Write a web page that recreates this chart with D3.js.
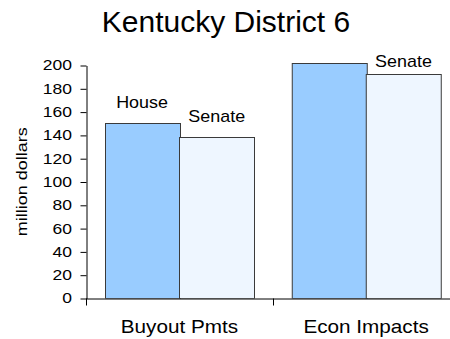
<!DOCTYPE html>
<html>
<head>
<meta charset="utf-8">
<script src="https://cdn.jsdelivr.net/npm/d3@7"></script>
<style>
  html, body { margin: 0; padding: 0; background: #fff; }
  svg { display: block; font-family: "Liberation Sans", Arial, sans-serif; }
</style>
</head>
<body>
<svg id="chart" width="450" height="339"></svg>
<script>
// Kentucky District 6: House vs Senate estimates, million dollars
const categories = ["Buyout Pmts", "Econ Impacts"];
const seriesNames = ["House", "Senate"];
const houseValues = [151, 212];
const senateValues = [139, 193];
const yTicks = [0, 20, 40, 60, 80, 100, 120, 140, 160, 180, 200];
const titleText = "Kentucky District 6";
const yAxisTitle = "million dollars";

const colors = { House: "#99CCFF", Senate: "#EEF6FF" };

const svg = d3.select("#chart");

const plot = { left: 86, right: 459.5, top: 63, bottom: 298.5 };

const y = d3.scaleLinear().domain([0, 200]).range([plot.bottom, 65.5]);
const x0 = d3.scaleBand().domain(categories).range([plot.left, plot.right]);
const x1 = d3.scaleBand().domain(seriesNames).range([0, x0.bandwidth()]).paddingOuter(0.25);

const rows = categories.map((c, i) => ({
  category: c,
  values: [
    { series: "House", value: houseValues[i] },
    { series: "Senate", value: senateValues[i] }
  ]
}));

// clip bars to the plot area
svg.append("defs").append("clipPath").attr("id", "plotClip")
  .append("rect")
  .attr("x", plot.left).attr("y", plot.top)
  .attr("width", plot.right - plot.left).attr("height", plot.bottom - plot.top);

// title
svg.append("text")
  .attr("transform", "translate(226,32)")
  .attr("text-anchor", "middle")
  .attr("font-size", 30)
  .attr("fill", "#000")
  .text(titleText);

// bars
const barLayer = svg.append("g").attr("clip-path", "url(#plotClip)");
const groups = barLayer.selectAll("g.cat").data(rows).join("g")
  .attr("class", "cat")
  .attr("transform", d => `translate(${x0(d.category)},0)`);

groups.selectAll("rect").data(d => d.values).join("rect")
  .attr("x", d => Math.round(x1(d.series)) + 0.5)
  .attr("y", d => Math.round(y(Math.min(d.value, 202))) + 0.5)
  .attr("width", Math.round(x1.bandwidth()))
  .attr("height", d => plot.bottom - (Math.round(y(Math.min(d.value, 202))) + 0.5))
  .attr("fill", d => colors[d.series])
  .attr("stroke", "#3a3a3a")
  .attr("stroke-width", 1);

// series-name labels above bars that stay within the axis range
const labelData = [];
rows.forEach(r => r.values.forEach(v => {
  if (v.value <= 200) labelData.push({ category: r.category, series: v.series, value: v.value });
}));
svg.append("g").selectAll("text").data(labelData).join("text")
  .attr("transform", d => {
    const cx = x0(d.category) + x1(d.series) + x1.bandwidth() / 2;
    const by = Math.max(y(d.value) - 15, 67);
    return `translate(${cx},${by}) scale(1.12,1)`;
  })
  .attr("text-anchor", "middle")
  .attr("font-size", 16)
  .attr("fill", "#000")
  .text(d => d.series);

// y axis
const yAxis = svg.append("g")
  .attr("transform", `translate(${plot.left + 0.5},0)`)
  .call(d3.axisLeft(y).tickValues(yTicks).tickSize(6).tickSizeOuter(0).tickPadding(8));
yAxis.select(".domain").attr("stroke", "#000");
yAxis.selectAll(".tick line").attr("stroke", "#000");
yAxis.selectAll(".tick text")
  .attr("font-size", 14)
  .attr("font-family", "Liberation Sans, Arial, sans-serif")
  .attr("fill", "#000")
  .attr("x", -14.5 / 1.25)
  .attr("transform", "scale(1.25,1)");

// x axis: baseline with category boundary ticks and centred labels
const xAxis = svg.append("g")
  .attr("transform", `translate(0,${plot.bottom})`)
  .call(d3.axisBottom(x0).tickSize(0).tickPadding(0).tickSizeOuter(0));
xAxis.select(".domain").attr("stroke", "#000").attr("d", `M${plot.left},0.5H${plot.right}`);
xAxis.selectAll(".tick text")
  .attr("font-size", 18)
  .attr("font-family", "Liberation Sans, Arial, sans-serif")
  .attr("fill", "#000")
  .attr("dy", null)
  .attr("y", 0)
  .attr("transform", "translate(0,34) scale(1.15,1)");
const bounds = categories.map(c => x0(c)).concat([x0(categories[categories.length - 1]) + x0.bandwidth()]);
xAxis.selectAll("line.bound").data(bounds).join("line")
  .attr("class", "bound")
  .attr("x1", d => Math.round(d) + 0.5).attr("x2", d => Math.round(d) + 0.5)
  .attr("y1", 0).attr("y2", 7)
  .attr("stroke", "#000");

// y axis title
svg.append("text")
  .attr("transform", `translate(27,${(plot.bottom + 65) / 2}) rotate(-90) scale(1.2,1)`)
  .attr("text-anchor", "middle")
  .attr("font-size", 15)
  .attr("fill", "#000")
  .text(yAxisTitle);
</script>
</body>
</html>
